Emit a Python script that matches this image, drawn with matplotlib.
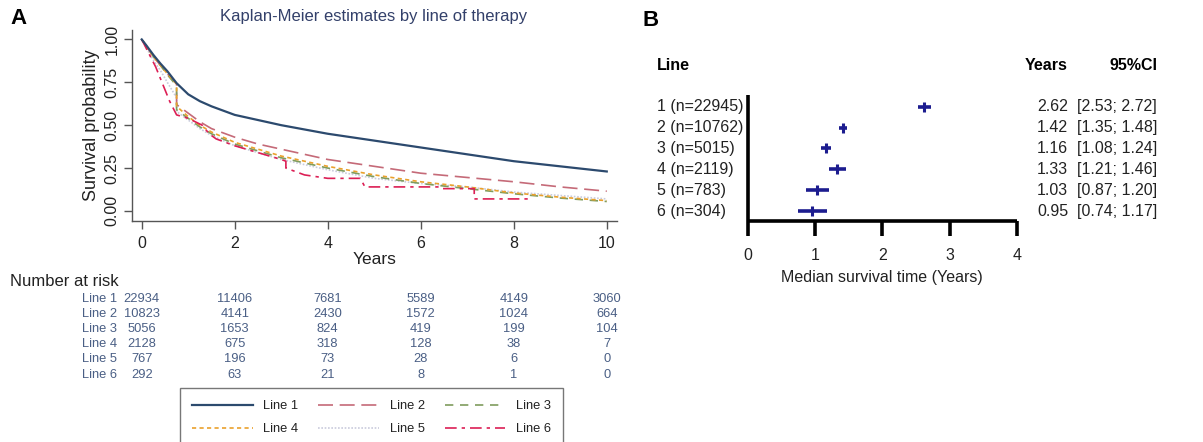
import matplotlib
matplotlib.use("Agg")
import matplotlib.pyplot as plt
from matplotlib import transforms

plt.rcParams['font.family'] = ['Liberation Sans', 'DejaVu Sans']

# ---------------- Data ----------------
km_times = [0, 0.1, 0.25, 0.4, 0.55, 0.75, 0.75, 1, 1.25, 1.5, 1.75, 2, 2.5, 3, 3.5, 4, 5, 6, 7, 8, 9, 10]
km_line1 = [1.0, 0.965, 0.91, 0.86, 0.815, 0.745, 0.745, 0.68, 0.64, 0.61, 0.585, 0.56, 0.53, 0.50, 0.475, 0.45, 0.41, 0.37, 0.33, 0.29, 0.26, 0.23]
km_line2 = [1.0, 0.96, 0.90, 0.85, 0.80, 0.74, 0.62, 0.57, 0.52, 0.48, 0.455, 0.43, 0.39, 0.36, 0.33, 0.30, 0.26, 0.22, 0.195, 0.17, 0.14, 0.115]
km_line3 = [1.0, 0.96, 0.90, 0.85, 0.795, 0.73, 0.59, 0.54, 0.49, 0.45, 0.42, 0.39, 0.35, 0.31, 0.28, 0.25, 0.20, 0.16, 0.13, 0.10, 0.075, 0.055]
km_line4 = [1.0, 0.96, 0.90, 0.85, 0.80, 0.74, 0.61, 0.55, 0.50, 0.46, 0.43, 0.40, 0.36, 0.32, 0.29, 0.26, 0.21, 0.17, 0.14, 0.105, 0.08, 0.06]
km_line5 = [1.0, 0.95, 0.88, 0.82, 0.75, 0.66, 0.58, 0.53, 0.48, 0.44, 0.41, 0.38, 0.34, 0.30, 0.27, 0.24, 0.19, 0.16, 0.14, 0.11, 0.09, 0.07]
km6_times = [0, 0.3, 0.6, 0.75, 1.0, 1.3, 1.45, 1.6, 2.0, 2.5, 3.0, 3.1, 3.1, 3.5, 4.0, 4.7, 4.8, 6.4, 6.45, 7.15, 7.15, 8.4]
km_line6 = [1, 0.84, 0.64, 0.56, 0.54, 0.50, 0.45, 0.42, 0.38, 0.34, 0.30, 0.29, 0.25, 0.21, 0.19, 0.19, 0.14, 0.14, 0.13, 0.13, 0.07, 0.07]

line_names = ["Line 1", "Line 2", "Line 3", "Line 4", "Line 5", "Line 6"]
risk_times = [0, 2, 4, 6, 8, 10]
risk_line1 = [22934, 11406, 7681, 5589, 4149, 3060]
risk_line2 = [10823, 4141, 2430, 1572, 1024, 664]
risk_line3 = [5056, 1653, 824, 419, 199, 104]
risk_line4 = [2128, 675, 318, 128, 38, 7]
risk_line5 = [767, 196, 73, 28, 6, 0]
risk_line6 = [292, 63, 21, 8, 1, 0]

forest_labels = ["1 (n=22945)", "2 (n=10762)", "3 (n=5015)", "4 (n=2119)", "5 (n=783)", "6 (n=304)"]
forest_median = [2.62, 1.42, 1.16, 1.33, 1.03, 0.95]
forest_lower = [2.53, 1.35, 1.08, 1.21, 0.87, 0.74]
forest_upper = [2.72, 1.48, 1.24, 1.46, 1.20, 1.17]

# ---------------- Figure ----------------
W, H = 1203, 442
fig = plt.figure(figsize=(W / 100, H / 100), dpi=100)

def fx(px):
    return px / W

def fy(py):
    return 1 - py / H

# ---- Panel A ----
axA = fig.add_axes([fx(132), fy(220.7), fx(617 - 132), (220.7 - 30) / H])
styles = [
    dict(color="#2c4a6e", lw=1.6, ls="-"),
    dict(color="#c56a78", lw=1.2, ls=(0, (9, 4))),
    dict(color="#7f9c5e", lw=1.2, ls=(0, (5, 4))),
    dict(color="#eaa12c", lw=1.2, ls=(0, (2.5, 2))),
    dict(color="#c9cbdc", lw=1.2, ls=(0, (1, 1))),
    dict(color="#dc1f55", lw=1.2, ls=(0, (7, 3, 2, 3))),
]
series = [(km_times, km_line1), (km_times, km_line2), (km_times, km_line3),
          (km_times, km_line4), (km_times, km_line5), (km6_times, km_line6)]
order = [4, 1, 2, 3, 5, 0]
handles = {}
for i in order:
    t, s = series[i]
    h, = axA.plot(t, s, **styles[i], label=line_names[i])
    handles[i] = h

axA.set_xlim(-0.209, 10.22)
axA.set_ylim(-0.057, 1.055)
axA.set_xticks([0, 2, 4, 6, 8, 10])
axA.set_yticks([0, 0.25, 0.5, 0.75, 1.0])
axA.set_yticklabels(["0.00", "0.25", "0.50", "0.75", "1.00"], rotation=90, va="center")
for sp in ["top", "right"]:
    axA.spines[sp].set_visible(False)
for sp in ["left", "bottom"]:
    axA.spines[sp].set_color("#555555")
    axA.spines[sp].set_linewidth(1.0)
axA.tick_params(axis="both", direction="out", length=6, width=1.0, color="#555555",
                labelsize=11.5, labelcolor="#222222")
axA.tick_params(axis="x", pad=5)
axA.tick_params(axis="y", pad=3)
axA.set_xlabel("Years", fontsize=12.5, color="#222222", labelpad=1)
axA.set_ylabel("Survival probability", fontsize=13, color="#222222", labelpad=3)
fig.text(fx(374), fy(16), "Kaplan-Meier estimates by line of therapy", ha="center", va="center",
         fontsize=12, color="#33406a")
fig.text(fx(10), fy(18), "A", fontsize=16, fontweight="bold", ha="left", va="center")

# Number at risk table
fig.text(fx(10), fy(282), "Number at risk", fontsize=12, color="#222222", ha="left", va="center")
trans = transforms.blended_transform_factory(axA.transData, fig.transFigure)
risk_rows = [risk_line1, risk_line2, risk_line3, risk_line4, risk_line5, risk_line6]
row_y = [299, 314, 329, 344, 359.5, 375]
tbl_color = "#4a5f85"
for name, vals, ry in zip(line_names, risk_rows, row_y):
    fig.text(fx(82), fy(ry), name, fontsize=9.3, color=tbl_color, ha="left", va="center")
    for t, v in zip(risk_times, vals):
        axA.text(t, fy(ry), str(v), transform=trans, fontsize=9.3, color=tbl_color,
                 ha="center", va="center", clip_on=False)

# Legend
leg_handles = [handles[0], handles[3], handles[1], handles[4], handles[2], handles[5]]
leg = fig.legend(leg_handles, [h.get_label() for h in leg_handles], ncol=3,
                 loc="upper left", bbox_to_anchor=(fx(180), fy(388)),
                 fontsize=9.3, handlelength=4.7, columnspacing=1.55, handletextpad=0.8,
                 borderpad=0.95, labelspacing=0.85, fancybox=False, frameon=True,
                 borderaxespad=0)
leg.get_frame().set_edgecolor("#555555")
leg.get_frame().set_linewidth(1.0)
for txt in leg.get_texts():
    txt.set_color("#222222")

# ---- Panel B ----
axB = fig.add_axes([fx(748), fy(220.7), fx(1016.7 - 748), (220.7 - 95) / H])
rows = list(range(1, 7))
navy = "#1c1c8f"
for r, m, lo, hi in zip(rows, forest_median, forest_lower, forest_upper):
    axB.plot([lo, hi], [r, r], color=navy, lw=2.6, solid_capstyle="butt")
    axB.plot([m], [r], marker="|", color=navy, markersize=7, mew=2.2)
axB.set_xlim(0, 4)
axB.set_ylim(6.46, 0.44)
axB.set_xticks([0, 1, 2, 3, 4])
axB.set_yticks([])
for sp in ["top", "right"]:
    axB.spines[sp].set_visible(False)
for sp in ["left", "bottom"]:
    axB.spines[sp].set_linewidth(2.6)
    axB.spines[sp].set_color("black")
    axB.spines[sp].set_capstyle("butt")
axB.tick_params(axis="x", direction="out", length=11, width=2.6, labelsize=11.5,
                labelcolor="#222222", pad=9)
axB.set_xlabel("Median survival time (Years)", fontsize=11.5, color="#222222", labelpad=5)

fig.text(fx(643), fy(20), "B", fontsize=16, fontweight="bold", ha="left", va="center")
fig.text(fx(657), fy(65), "Line", fontsize=11.5, fontweight="bold", ha="left", va="center")
fig.text(fx(1068), fy(65), "Years", fontsize=11.5, fontweight="bold", ha="right", va="center")
fig.text(fx(1157), fy(65), "95%CI", fontsize=11.5, fontweight="bold", ha="right", va="center")
transB = transforms.blended_transform_factory(fig.transFigure, axB.transData)
for r, lab, m, lo, hi in zip(rows, forest_labels, forest_median, forest_lower, forest_upper):
    axB.text(fx(657), r, lab, transform=transB, fontsize=11.5, color="#222222",
             ha="left", va="center", clip_on=False)
    axB.text(fx(1068), r, f"{m:.2f}", transform=transB, fontsize=11.5, color="#222222",
             ha="right", va="center", clip_on=False)
    axB.text(fx(1157), r, f"[{lo:.2f}; {hi:.2f}]", transform=transB, fontsize=11.5,
             color="#222222", ha="right", va="center", clip_on=False)

fig.savefig("out.png", dpi=100)
